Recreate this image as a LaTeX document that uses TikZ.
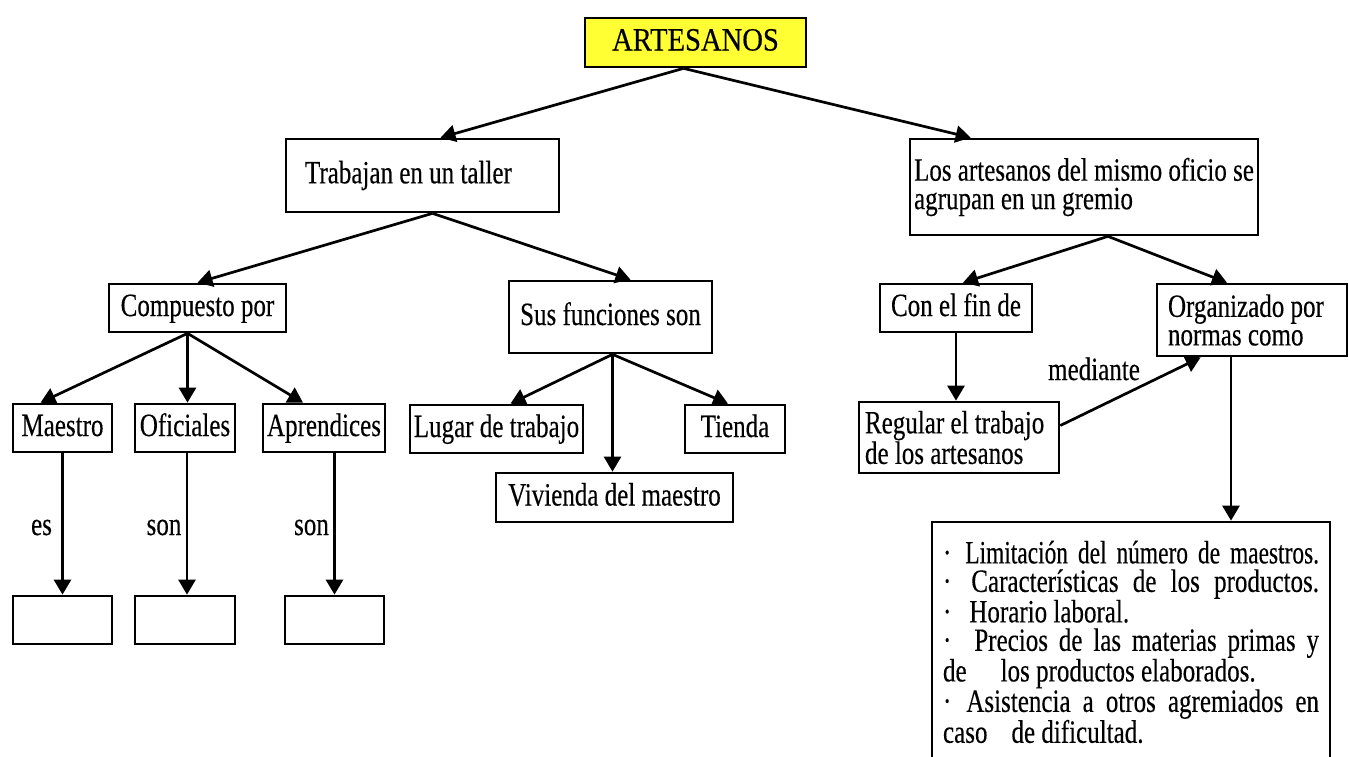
\documentclass[tikz,border=0pt]{standalone}
\usepackage{fontspec}
\setmainfont[FakeStretch=0.77, FakeBold=0.3]{Liberation Serif}
\newfontfamily\titulo[FakeStretch=0.88, FakeBold=0.3]{Liberation Serif}
\newfontfamily\estrecha[FakeStretch=0.72, FakeBold=0.3]{Liberation Serif}
\usepackage{tikz}
\usetikzlibrary{arrows.meta}
\definecolor{amarillo}{HTML}{FFFF33}
\def\letra{\fontsize{32.5}{28.5}\selectfont}
\def\anchoLista{376pt}
\tikzset{
	caja/.style={draw, line width=2.7pt, inner sep=0pt, font=\letra},
	linea/.style={caja, text height=22pt, text depth=6pt},
	etiqueta/.style={inner sep=0pt, font=\letra, anchor=base},
	flecha/.style={-{Triangle[length=15pt,width=17pt]}, line width=2.7pt}
}

\begin{document}
\begin{tikzpicture}[x=1pt, y=-1pt]
			%%%%% START %%%%%
			
			\useasboundingbox (0, 0) rectangle (1349, 756);
			
			\node[linea, fill=amarillo, minimum width=221pt, minimum height=49pt, font=\letra\titulo] (artesanos) at (695.5, 42.5) {ARTESANOS};
			
			\node[caja, text width=235pt, inner xsep=19pt, minimum height=73pt, align=flush left] (taller) at (422.5, 175.5) {Trabajan en un taller};
			\node[caja, minimum width=348pt, minimum height=96pt, align=left] (gremio) at (1084, 187) {Los artesanos del mismo oficio se\\agrupan en un gremio};
			
			\node[linea, minimum width=177pt, minimum height=48pt] (compuesto) at (197.5, 308) {Compuesto por};
			\node[linea, minimum width=203pt, minimum height=72pt] (funciones) at (610.5, 317) {Sus funciones son};
			\node[linea, minimum width=152pt, minimum height=48pt] (fin) at (956, 308) {Con el fin de};
			\node[caja, text width=168pt, inner xsep=11pt, minimum height=72pt, align=flush left] (normas) at (1252, 320) {Organizado por\\normas como};
			
			\node[linea, minimum width=99pt, minimum height=48pt] (maestro) at (62.5, 428) {Maestro};
			\node[linea, minimum width=100pt, minimum height=48pt] (oficiales) at (185, 428) {Oficiales};
			\node[linea, minimum width=122pt, minimum height=48pt] (aprendices) at (324, 428) {Aprendices};
			\node[linea, minimum width=173pt, minimum height=48pt] (lugar) at (496.5, 429) {Lugar de trabajo};
			\node[linea, minimum width=100pt, minimum height=48pt] (tienda) at (735, 429) {Tienda};
			\node[linea, minimum width=237pt, minimum height=49pt] (vivienda) at (614.5, 497.5) {Vivienda del maestro};
			\node[caja, text width=188pt, inner xsep=6pt, minimum height=71pt, align=flush left] (regular) at (959, 437.5) {Regular el trabajo\\de los artesanos};
			
			\node[caja, minimum width=99pt, minimum height=48pt] (vacio1) at (62.5, 620) {};
			\node[caja, minimum width=100pt, minimum height=48pt] (vacio2) at (185, 620) {};
			\node[caja, minimum width=99pt, minimum height=48pt] (vacio3) at (334.5, 620) {};
			
			\node[caja, text width=\anchoLista, inner xsep=11pt, minimum height=240pt, align=flush left] (lista) at (1131, 642) {%
				\makebox[\anchoLista][s]{·\hspace{14pt}\estrecha Limitación del número de maestros.}\\
				\makebox[\anchoLista][s]{·\hspace{20pt}Características de los productos.}\\
				·\hspace{18pt}Horario laboral.\\
				\makebox[\anchoLista][s]{·\hspace{23pt}Precios de las materias primas y}\\
				de\hspace{34pt}los productos elaborados.\\
				\makebox[\anchoLista][s]{·\hspace{15pt}Asistencia a otros agremiados en}\\
				caso\hspace{24pt}de dificultad.};
			
			\node[etiqueta] (es) at (41.5, 535) {es};
			\node[etiqueta] (son1) at (164, 535) {son};
			\node[etiqueta] (son2) at (311.5, 535) {son};
			\node[etiqueta] (mediante) at (1094, 380) {mediante};
			
			\draw[flecha] ([xshift=-12pt]artesanos.south) -- ([xshift=18pt]taller.north);
			\draw[flecha] ([xshift=-12pt]artesanos.south) -- ([xshift=62pt]gremio.north west);
			
			\draw[flecha] ([xshift=10pt]taller.south) -- (compuesto.north);
			\draw[flecha] ([xshift=10pt]taller.south) -- ([xshift=20pt]funciones.north);
			
			\draw[flecha] ([xshift=-10pt]compuesto.south) -- ([xshift=-22pt]maestro.north);
			\draw[flecha] ([xshift=-10pt]compuesto.south) -- ([xshift=-10pt]compuesto.south |- oficiales.north);
			\draw[flecha] ([xshift=-10pt]compuesto.south) -- ([xshift=-21pt]aprendices.north);
			
			\draw[flecha] (maestro.south) -- (vacio1.north);
			\draw[flecha] ([xshift=2pt]oficiales.south) -- ([xshift=2pt]vacio2.north);
			\draw[flecha] (aprendices.south -| vacio3.north) -- (vacio3.north);
			
			\draw[flecha] ([xshift=2pt]funciones.south) -- ([xshift=14pt]lugar.north);
			\draw[flecha] ([xshift=2pt]funciones.south) -- ([xshift=2pt]funciones.south |- vivienda.north);
			\draw[flecha] ([xshift=2pt]funciones.south) -- ([xshift=-7pt]tienda.north);
			
			\draw[flecha] ([xshift=24pt]gremio.south) -- ([xshift=7pt]fin.north);
			\draw[flecha] ([xshift=24pt]gremio.south) -- ([xshift=-25pt]normas.north);
			
			\draw[flecha] (fin.south) -- (fin.south |- regular.north);
			\draw[flecha] ([yshift=12pt]regular.east) -- ([xshift=45pt]normas.south west);
			\draw[flecha] ([xshift=-21pt]normas.south) -- ([xshift=-21pt]normas.south |- lista.north);
			
			%%%%% END %%%%%
		\end{tikzpicture}
\end{document}
